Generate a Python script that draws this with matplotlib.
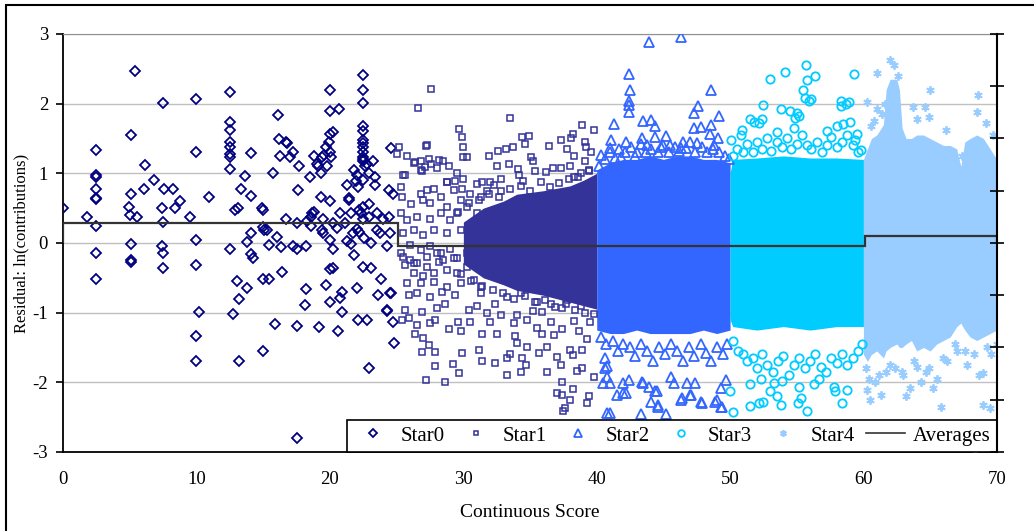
import matplotlib
matplotlib.use("Agg")
import matplotlib.pyplot as plt
from matplotlib.patches import Rectangle
from matplotlib.lines import Line2D

plt.rcParams['font.family'] = ['Liberation Serif', 'DejaVu Serif']
plt.rcParams['axes.unicode_minus'] = False

### Data
# Star0: sparse diamonds, x 0-25
star0_x = [0, 1.8, 2.45, 2.45, 2.45, 2.45, 2.45, 2.45, 2.45, 2.45, 2.45,
           5.4, 5.05, 5.05, 4.9, 5.0, 5.5, 5.05, 5.05, 5.05,
           6.1, 6.05, 6.8, 7.45, 7.55, 8.25, 8.35, 8.75, 7.4, 7.45, 7.4, 7.5, 7.45,
           9.5, 9.95, 9.95, 9.95, 10.95, 9.95, 10.2, 9.95, 9.95,
           12.5, 12.5, 12.5, 12.5, 12.5, 12.5, 12.5, 12.5, 12.5,
           13.65, 13.3, 12.9, 13.1, 14.1, 14.1, 14.1, 13.75, 14.05, 14.25,
           12.75, 13.05, 13.2, 13.75, 13.2,
           14.9, 15.0, 15.05, 15.25, 15.0, 15.4, 16.0, 16.3, 16.7, 15.75, 16.1, 16.2,
           16.25, 16.7, 16.8, 17.0, 17.25, 17.7, 17.6, 17.2, 17.55, 17.5, 18.2,
           15.0, 14.95, 15.45, 16.4, 15.9, 17.55, 18.2, 18.1, 17.55,
           18.5, 18.3, 18.55, 18.65, 18.8, 18.55, 18.8, 19.0, 19.1, 19.3, 19.4, 19.55,
           19.7, 19.9, 20.0, 20.25, 20.0, 20.0, 20.7, 19.75, 20.0, 20.05, 19.3, 20.0,
           19.5, 19.4, 19.5, 20.0, 20.25, 20.25, 20.55, 20.75, 21.1, 21.25, 21.45,
           21.4, 21.6, 21.25, 21.55, 21.8, 21.95, 22.1, 22.05, 21.75, 21.8, 22.0,
           22.2, 22.2, 22.3,
           19.2, 19.7, 20.0, 20.0, 20.2, 20.6, 20.75, 20.9, 20.9, 22.0, 22.1, 22.8,
           22.9, 22.45, 23.1, 23.8, 23.6, 24.25, 24.7, 24.8, 24.5, 24.6, 24.3,
           22.5, 22.5, 22.5, 22.5, 22.5, 22.5, 22.5, 22.5, 22.5, 22.5, 22.5, 22.5,
           22.6, 22.75, 23.2, 22.9, 22.5, 23.4, 23.35, 22.95, 22.5, 22.45, 22.9,
           23.5, 23.5, 23.1, 22.55, 24.25, 24.5, 24.0, 24.7, 24.45, 24.6, 24.4, 23.75]
star0_y = [0.50, 0.37, 1.34, 0.98, 0.95, 0.78, 0.65, 0.63, 0.24, -0.15, -0.51,
           2.47, 1.55, 0.70, 0.52, 0.40, 0.37, -0.02, -0.24, -0.27,
           1.12, 0.77, 0.90, 2.01, 0.78, 0.77, 0.50, 0.60, 0.50, 0.30, -0.05, -0.15, -0.36,
           0.37, 2.07, 1.30, 0.04, 0.66, -0.32, -0.99, -1.33, -1.69,
           2.17, 1.73, 1.62, 1.45, 1.38, 1.28, 1.23, 1.06, -0.08,
           0.96, 0.78, 0.48, 0.50, 1.29, 0.67, 0.14, 0.02, -0.16, -0.21,
           -1.02, -0.54, -0.81, -0.65, -1.69,
           0.50, 0.48, 0.19, 0.18, 0.23, -0.03, 0.08, -0.06, 0.35, 1.00, 1.83, 1.49,
           1.25, 1.45, 1.44, 1.23, 1.31, 1.11, 0.76, -0.05, -0.09, 0.28, -0.05,
           -1.55, -0.52, -0.51, -0.41, -1.17, -1.19, -0.66, -0.89, -2.80,
           0.94, 0.31, 0.38, 0.43, 0.44, 0.25, 1.25, 1.14, 1.10, 1.01, 1.24, 1.26,
           1.38, 1.45, 1.57, 1.60, 1.89, 2.20, 1.93, 1.11, 1.31, 1.24, 0.66, 0.60,
           0.35, 0.19, 0.14, 0.04, -0.08, 0.28, 0.22, 0.43, 0.28, 0.83, 0.62,
           0.64, 0.43, 0.03, -0.01, 1.05, 0.89, 0.81, 0.98, 0.14, -0.17, 0.20,
           0.16, 0.48, 0.43,
           -1.21, -0.60, -0.84, -0.38, -0.36, -1.27, -0.79, -0.71, -0.99, -0.65, -1.11, -1.11,
           -1.80, -0.34, -0.36, -0.51, -0.75, -0.97, -1.13, -1.43, -0.72, -0.72, -0.96,
           2.41, 2.20, 2.01, 1.68, 1.61, 1.48, 1.43, 1.38, 1.31, 1.24, 1.20, 1.17,
           1.10, 1.14, 1.18, 1.00, 0.90, 0.95, 0.83, 0.56, 0.35, 0.52, 0.37,
           0.43, 0.19, 0.00, 0.07, -0.05, 0.14, 0.35, 0.71, 0.76, 1.36, 0.38, 0.14]

# Star1: squares, x 25-40 (dense core given as a band)
star1_x = [27.6, 26.6, 33.5, 29.7, 38.9, 39.8, 38.2, 29.9, 34.4, 34.9, 34.6, 37.3, 38.1,
           25.2, 27.2, 30.0, 33.7, 33.2, 32.6, 36.4, 37.8, 39.1, 39.2, 39.6, 25.0, 25.8,
           30.0, 30.3, 31.9, 35.1, 38.3, 26.4, 26.8, 27.4, 28.2, 28.5, 28.9, 27.6, 27.1,
           28.0, 32.5, 33.4, 35.2, 38.0, 39.1, 26.9, 29.5, 25.6, 34.1, 35.4, 36.2, 36.7,
           37.3, 28.8, 29.4, 30.0, 31.4, 32.0, 32.8, 34.2, 34.5, 38.3, 38.8, 39.4,
           27.2, 28.6, 29.7, 33.3, 34.3, 36.3, 37.4, 37.0, 37.4, 38.2, 38.0, 38.5, 38.9,
           39.4, 39.3, 37.6, 37.5, 39.8, 27.9, 29.2, 31.4, 32.4, 34.7, 37.3, 26.9, 27.9,
           29.9, 31.2, 33.5, 33.3, 34.4, 35.7, 36.3, 37.0, 38.0, 38.9, 38.2, 34.8, 27.0,
           27.4, 26.4, 28.9, 29.8, 31.4, 32.5, 33.9, 34.0, 35.5, 35.9, 36.8, 37.4, 38.7,
           39.3, 25.4, 25.9, 26.5, 27.5, 27.9, 29.6, 30.5, 32.0, 33.8, 34.8, 36.6, 38.3,
           39.5, 25.6, 26.9, 28.0, 28.6, 30.4, 31.0, 31.8, 32.8, 34.0, 35.2, 35.9, 37.4,
           38.8, 25.9, 26.5, 27.5, 28.4, 29.4, 31.3, 32.4, 33.3, 34.3, 35.5, 36.6, 37.8,
           39.3,
           25.5, 26.3, 26.8, 27.3, 25.3, 25.4, 26.1, 26.8, 27.3, 27.8, 27.0, 27.5, 28.8,
           29.3, 29.9, 28.3, 28.8, 29.8, 30.5, 31.0, 31.3, 31.8, 32.3, 32.8, 30.3, 31.0,
           25.3, 25.8, 26.5, 27.5, 28.3, 29.0, 29.5, 25.5, 26.3, 27.0, 27.8, 28.8, 29.8,
           30.5, 26.0, 26.8, 27.5, 28.3, 29.0, 29.5, 25.5, 26.3, 27.3, 28.2, 30.3, 31.0,
           31.5, 32.0, 31.3, 32.3, 32.8, 32.5,
           25.3, 26.0, 25.6, 26.5, 27.3, 28.0, 26.3, 27.0, 27.8, 28.8, 29.5, 30.3, 26.8,
           27.8, 28.8, 29.8, 30.8, 31.3, 25.8, 28.5, 29.3, 30.8,
           29.6, 30.4, 31.2, 31.9, 32.7, 33.5, 34.3, 35.0, 35.8, 36.5, 37.2, 37.9, 38.6,
           39.4, 29.8, 30.6, 31.4, 32.2, 33.0, 33.8, 34.6, 35.4, 36.1, 36.9, 37.7, 38.4,
           39.1, 39.8]
star1_y = [2.21, 1.94, 1.80, 1.64, 1.70, 1.62, 1.56, 1.52, 1.52, 1.54, 1.42, 1.48, 1.50,
           1.38, 1.39, 1.38, 1.38, 1.35, 1.32, 1.39, 1.35, 1.45, 1.38, 1.31, 1.28, 1.25,
           1.23, 1.23, 1.25, 1.23, 1.25, 1.16, 1.17, 1.21, 1.19, 1.17, 1.11, 1.13, 1.09,
           1.07, 1.10, 1.13, 1.17, 1.10, 1.17, 1.04, 1.01, 0.97, 1.06, 1.04, 1.02, 1.07,
           1.07, 0.87, 0.89, 0.92, 0.87, 0.88, 0.92, 0.98, 0.89, 0.95, 1.00, 1.03,
           -1.97, -1.99, -1.86, -1.89, -1.85, -1.85, -2.00, -2.15, -2.18, -2.09, -2.26,
           -1.84, -1.80, -2.20, -2.30, -2.37, -2.41, -1.93, -1.76, -1.73, -1.70, -1.72,
           -1.75, -1.75, -1.56, -1.56, -1.58, -1.53, -1.60, -1.65, -1.65, -1.58, -1.49,
           -1.64, -1.53, -1.54, -1.61, -1.50, -1.37, -1.46, -1.30, -1.24, -1.26, -1.30,
           -1.30, -1.34, -1.44, -1.22, -1.30, -1.32, -1.24, -1.26, -1.38, -1.10, -1.08,
           -1.18, -1.15, -1.10, -1.14, -1.13, -1.13, -1.15, -1.10, -1.13, -1.12, -1.13,
           -0.96, -0.99, -0.94, -0.87, -0.96, -0.91, -1.01, -1.03, -1.03, -0.97, -0.99,
           -0.94, -0.91, -0.75, -0.72, -0.77, -0.71, -0.75, -0.72, -0.87, -0.77, -0.72,
           -0.84, -0.87, -0.82, -0.79,
           0.98, 1.15, 1.05, 1.40, 0.81, 0.66, 0.56, 0.71, 0.76, 0.78, 0.62, 0.57, 0.88,
           0.76, 0.77, 0.66, 0.52, 0.62, 0.71, 0.85, 0.66, 0.74, 0.83, 0.74, 0.52, 0.43,
           0.43, 0.33, 0.38, 0.35, 0.43, 0.33, 0.43, 0.14, 0.19, 0.11, 0.19, 0.14, 0.19,
           0.09, -0.03, -0.10, -0.05, -0.15, -0.08, -0.22, -0.20, -0.29, -0.34, -0.27,
           -0.15, -0.29, -0.05, 0.14, 0.28, 0.43, 0.23, -0.15,
           -0.15, -0.24, -0.32, -0.29, -0.20, -0.15, -0.43, -0.48, -0.43, -0.39, -0.43,
           -0.34, -0.58, -0.56, -0.63, -0.58, -0.53, -0.63, -0.58, -0.24, -0.22, -0.24,
           0.45, 0.58, 0.62, 0.70, 0.66, 0.78, 0.82, 0.75, 0.88, 0.80, 0.86, 0.92, 0.95,
           1.05, -0.45, -0.55, -0.62, -0.68, -0.72, -0.80, -0.76, -0.85, -0.82, -0.92,
           -0.88, -0.96, -1.00, -1.02]
star1_band_x = [30, 31.5, 33, 34, 36, 38, 39, 40]
star1_band_lo = [-0.3, -0.5, -0.6, -0.68, -0.75, -0.85, -0.9, -0.95]
star1_band_hi = [0.3, 0.5, 0.6, 0.7, 0.75, 0.82, 0.9, 1.0]

# Star2: triangles, x 40-50
star2_x = [43.9, 46.3, 42.4, 42.5, 48.6, 42.4, 42.4, 42.4, 47.6, 47.3, 49.2, 41.3, 43.5,
           44.1, 44.4, 45.2, 48.6, 47.3, 47.8, 48.5, 49.1, 41.1, 43.4, 44.4, 45.5, 46.5,
           41.0, 42.2, 43.8, 44.8, 47.5, 48.8, 40.3, 41.8, 42.9, 46.3,
           40.2, 40.6, 41.0, 41.4, 41.7, 42.1, 42.6, 43.0, 43.3, 43.7, 44.1, 44.6, 45.0,
           45.4, 45.9, 46.2, 46.7, 47.0, 47.4, 47.9, 48.3, 48.7, 49.2, 49.6, 49.9,
           40.6, 40.6, 40.8, 40.5, 41.0, 42.0, 42.0, 41.5, 42.4, 43.4, 43.9, 44.1, 44.5,
           44.6, 45.6, 45.8, 46.3, 46.8, 47.0, 47.4, 47.8, 48.9, 49.3, 49.3, 49.7, 40.8,
           41.0, 43.3, 45.2, 40.8, 42.2, 43.5, 44.4, 44.6, 46.4, 47.1, 47.9, 49.0, 49.4,
           40.3, 40.7, 41.2, 41.6, 42.0, 42.5, 42.9, 43.3, 43.8, 44.2, 44.7, 45.1, 45.6,
           46.0, 46.5, 46.9, 47.3, 47.8, 48.2, 48.6, 49.0, 49.5, 49.8]
star2_y = [2.89, 2.96, 2.43, 2.19, 2.19, 2.04, 1.98, 1.88, 1.97, 1.87, 1.82, 1.71, 1.75,
           1.77, 1.68, 1.54, 1.69, 1.65, 1.66, 1.56, 1.50, 1.48, 1.50, 1.52, 1.41, 1.45,
           1.36, 1.45, 1.41, 1.38, 1.43, 1.41, 1.26, 1.24, 1.25, 1.36,
           1.10, 1.20, 1.30, 1.22, 1.35, 1.30, 1.38, 1.30, 1.42, 1.30, 1.35, 1.30, 1.40,
           1.30, 1.38, 1.32, 1.36, 1.45, 1.30, 1.38, 1.30, 1.35, 1.30, 1.25, 1.20,
           -1.65, -1.80, -1.92, -2.01, -2.01, -2.01, -2.16, -2.18, -1.97, -1.99, -2.06,
           -2.28, -2.13, -2.32, -1.92, -2.01, -2.25, -2.01, -2.18, -2.01, -2.28, -2.28,
           -2.35, -2.08, -1.97, -2.44, -2.44, -2.45, -2.45, -1.77, -2.16, -2.01, -2.13,
           -2.35, -2.23, -2.18, -2.30, -2.25, -2.35,
           -1.35, -1.45, -1.40, -1.55, -1.45, -1.50, -1.62, -1.45, -1.55, -1.70, -1.50,
           -1.60, -1.45, -1.55, -1.70, -1.50, -1.62, -1.45, -1.58, -1.70, -1.50, -1.60,
           -1.45]
star2_band_x = [40, 41, 42, 43, 44, 45, 46, 47, 48, 49, 50]
star2_band_lo = [-1.25, -1.3, -1.3, -1.25, -1.3, -1.3, -1.3, -1.3, -1.25, -1.3, -1.25]
star2_band_hi = [1.05, 1.15, 1.2, 1.2, 1.25, 1.2, 1.25, 1.25, 1.2, 1.2, 1.15]

# Star3: circles, x 50-60
star3_x = [53.0, 54.1, 55.7, 55.8, 56.4, 59.3, 55.5, 55.6, 55.9, 56.1, 52.5, 53.8, 54.5,
           55.0, 54.9, 55.2, 58.3, 58.3, 58.7, 58.9, 51.5, 51.8, 52.4, 52.2, 50.9, 50.1,
           50.8, 53.5, 54.8, 57.3, 58.0, 58.5, 59.0, 59.5, 59.4, 59.8,
           50.2, 50.5, 51.0, 51.3, 51.7, 52.0, 52.4, 52.8, 53.1, 53.5, 53.9, 54.3, 54.6,
           55.0, 55.4, 55.8, 56.1, 56.5, 56.9, 57.3, 57.6, 58.0, 58.4, 58.8, 59.2, 59.6,
           50.0, 50.2, 51.5, 52.2, 52.5, 53.8, 55.1, 55.3, 55.8, 58.4, 53.0, 53.5, 51.5,
           53.3, 55.2, 57.8, 57.9, 58.8, 56.3,
           50.2, 50.6, 51.0, 51.3, 51.7, 52.0, 52.4, 52.8, 53.2, 53.6, 54.0, 54.4, 54.8,
           55.2, 55.6, 56.0, 56.4, 56.8, 57.2, 57.6, 58.0, 58.4, 58.8, 59.2, 59.6, 59.9,
           52.3, 53.9, 56.7]
star3_y = [2.36, 2.46, 2.56, 2.34, 2.40, 2.42, 2.19, 2.08, 2.04, 2.06, 1.98, 1.92, 1.90,
           1.86, 1.80, 1.82, 2.04, 1.96, 2.00, 2.03, 1.78, 1.74, 1.78, 1.72, 1.62, 1.48,
           1.55, 1.60, 1.65, 1.61, 1.68, 1.71, 1.73, 1.57, 1.48, 1.34,
           1.25, 1.35, 1.30, 1.42, 1.30, 1.45, 1.35, 1.50, 1.32, 1.45, 1.38, 1.50, 1.35,
           1.42, 1.55, 1.40, 1.35, 1.45, 1.30, 1.40, 1.52, 1.38, 1.45, 1.55, 1.40, 1.30,
           -2.13, -2.42, -2.34, -2.30, -2.28, -2.32, -2.30, -2.23, -2.41, -2.29, -2.13,
           -2.20, -2.02, -2.01, -2.07, -2.06, -2.12, -2.11, -2.02,
           -1.40, -1.55, -1.60, -1.70, -1.65, -1.80, -1.60, -1.75, -1.85, -1.70, -1.62,
           -1.90, -1.75, -1.65, -1.80, -1.70, -1.60, -1.78, -1.85, -1.65, -1.72, -1.60,
           -1.75, -1.65, -1.55, -1.45, -1.95, -1.98, -1.95]
star3_band_x = [50, 50.2, 52, 54, 56, 58, 60]
star3_band_lo = [-1.1, -1.2, -1.25, -1.2, -1.25, -1.2, -1.2]
star3_band_hi = [1.0, 1.2, 1.22, 1.25, 1.22, 1.22, 1.2]

# Star4: asterisks, x 60-70
star4_x = [60.3, 60.5, 61.3, 63.2, 63.5, 64.3, 65.2, 65.8, 69.0, 69.5, 69.0, 68.4,
           61.0, 65.0, 68.6, 63.7, 64.6, 64.9, 68.5, 60.3,
           60.8, 61.4, 61.6, 62.0, 62.3, 62.6, 60.6, 61.0, 64.0, 66.2, 67.4, 69.2, 69.7,
           60.4, 60.9, 61.7, 62.4, 63.0, 63.8, 64.7, 65.5, 66.3, 67.0, 67.8, 68.7, 69.6,
           60.2, 61.2, 62.0, 62.9, 64.0, 64.9, 66.0, 66.9, 67.6, 68.3, 69.3, 70.0]
star4_y = [-2.11, -2.25, -2.18, -2.20, -2.08, -2.00, -2.08, -2.35, -2.32, -2.37, -1.87, -3.00,
           2.44, 2.20, 2.12, 1.95, 1.95, 1.81, 1.88, 2.02,
           1.75, 1.85, 2.00, 2.62, 2.55, 2.40, 1.68, 1.92, 1.78, 1.62, 1.25, 1.72, 1.55,
           -1.95, -2.0, -1.85, -1.8, -1.9, -1.7, -1.85, -1.95, -1.7, -1.55, -1.75, -1.9, -1.6,
           -1.8, -1.9, -1.75, -1.85, -1.78, -1.8, -1.65, -1.45, -1.55, -1.6, -1.5, -1.45]
star4_band_x = [60.0, 60.3, 60.6, 61.0, 61.5, 61.7, 62.0, 62.5, 62.7, 62.9, 63.2, 63.6,
                64.0, 64.5, 65.0, 65.5, 66.0, 66.5, 67.0, 67.3, 67.6, 68.0, 68.5, 69.0,
                69.5, 70.0]
star4_band_lo = [-1.6, -1.7, -1.6, -1.55, -1.65, -1.55, -1.5, -1.45, -1.5, -1.5, -1.45,
                 -1.4, -1.55, -1.5, -1.55, -1.45, -1.4, -1.35, -1.2, -1.15, -1.25, -1.35,
                 -1.4, -1.35, -1.3, -1.25]
star4_band_hi = [1.2, 1.35, 1.5, 1.55, 1.7, 2.2, 2.35, 2.35, 2.2, 1.65, 1.5, 1.5, 1.55,
                 1.55, 1.5, 1.45, 1.4, 1.4, 1.35, 1.1, 1.45, 1.5, 1.55, 1.5, 1.35, 1.2]

# group averages (step line)
avg_edges = [0, 25.1, 40, 50, 60.1, 70]
avg_vals = [0.28, -0.04, -0.04, -0.04, 0.10]

colors = ['#000080', '#333399', '#3366FF', '#00CCFF', '#99CCFF']

fig = plt.figure(figsize=(10.34, 5.31), dpi=100)
ax = fig.add_axes([0.0612, 0.1488, 0.9028, 0.7872])

ax.fill_between(star1_band_x, star1_band_lo, star1_band_hi, color=colors[1], lw=0, zorder=2)
ax.fill_between(star2_band_x, star2_band_lo, star2_band_hi, color=colors[2], lw=0, zorder=2)
ax.fill_between(star3_band_x, star3_band_lo, star3_band_hi, color=colors[3], lw=0, zorder=2)
ax.fill_between(star4_band_x, star4_band_lo, star4_band_hi, color=colors[4], lw=0, zorder=2)

h0, = ax.plot(star0_x, star0_y, 'D', ms=5, mfc='none', mec=colors[0], mew=1.3, ls='none', zorder=3)
h1, = ax.plot(star1_x, star1_y, 's', ms=3.8, mfc='none', mec=colors[1], mew=1.1, ls='none', zorder=3)
h2, = ax.plot(star2_x, star2_y, '^', ms=6.5, mfc='none', mec=colors[2], mew=1.3, ls='none', zorder=3)
h3, = ax.plot(star3_x, star3_y, 'o', ms=6, mfc='none', mec=colors[3], mew=1.3, ls='none', zorder=3)
h4, = ax.plot(star4_x, star4_y, marker=(6, 2, 0), ms=6, mec=colors[4], mew=1.3, ls='none', zorder=3)

ax.stairs(avg_vals, avg_edges, color='#333333', lw=1.6, zorder=4)

ax.set_xlim(0, 70)
ax.set_ylim(-3, 3)
ax.set_xticks(range(0, 71, 10))
ax.set_yticks(range(-3, 4))
ax.yaxis.grid(True, color='#c0c0c0', lw=1)
ax.set_axisbelow(True)
ax.tick_params(axis='x', length=0, pad=14, labelsize=13.5)
ax.tick_params(axis='y', length=5, width=1.2, pad=6, labelsize=13.5)
for side in ['left', 'bottom']:
    ax.spines[side].set_linewidth(1.3)
ax.spines['top'].set_color('#909090')
ax.spines['right'].set_visible(False)

ax2 = ax.twinx()
ax2.set_ylim(0, 8)
ax2.set_yticks(range(0, 9))
ax2.set_yticklabels([])
ax2.tick_params(axis='y', direction='inout', length=10, width=1.2)
ax2.spines['right'].set_linewidth(1.5)
for side in ['left', 'top', 'bottom']:
    ax2.spines[side].set_visible(False)

ax.set_xlabel('Continuous Score', fontsize=14, labelpad=11)
ax.set_ylabel('Residual: ln(contributions)', fontsize=12, labelpad=2)

avg_handle = Line2D([], [], color='#333333', lw=1.2)
leg = ax.legend([h0, h1, h2, h3, h4, avg_handle],
                ['Star0', 'Star1', 'Star2', 'Star3', 'Star4', 'Averages'],
                loc='lower right', bbox_to_anchor=(1, 0), ncol=6, fontsize=15,
                frameon=True, fancybox=False, edgecolor='black', framealpha=1,
                borderaxespad=0, handlelength=1.9, handletextpad=0.35,
                columnspacing=0.55, markerscale=0.8, borderpad=0.3)
leg.get_frame().set_linewidth(1.2)
leg.set_zorder(10)

fig.patches.append(Rectangle((6 / 1034, -0.05), 1.2, 1.05 - 5 / 531, transform=fig.transFigure,
                             fill=False, ec='black', lw=1.5))

plt.savefig('out.png', dpi=100)
